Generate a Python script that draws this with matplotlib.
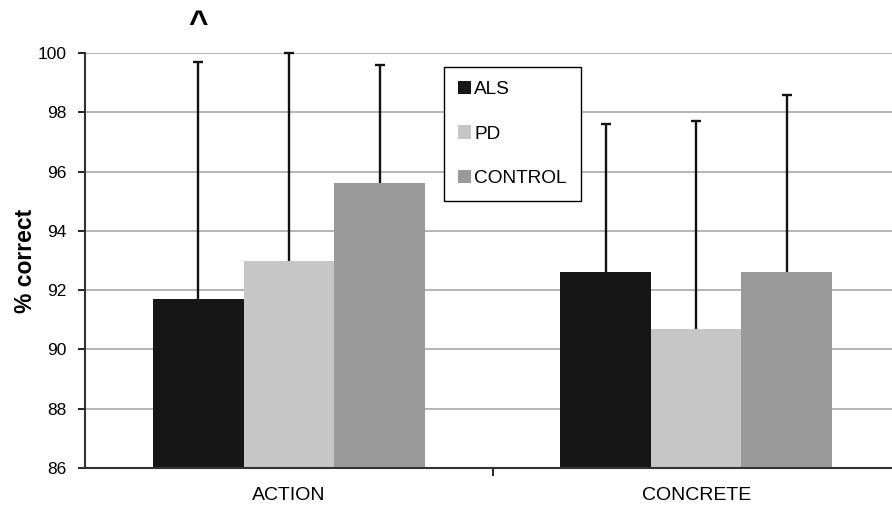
import matplotlib
matplotlib.use("Agg")
import matplotlib.pyplot as plt
import numpy as np

plt.rcParams['font.family'] = ['Liberation Sans', 'DejaVu Sans']

categories = ["ACTION", "CONCRETE"]
groups = ["ALS", "PD", "CONTROL"]
means = {
    "ALS": [91.7, 92.6],
    "PD": [93.0, 90.7],
    "CONTROL": [95.6, 92.6],
}
upper = {
    "ALS": [99.7, 97.6],
    "PD": [100.0, 97.7],
    "CONTROL": [99.6, 98.6],
}
colors = {"ALS": "#161616", "PD": "#c5c6c5", "CONTROL": "#999a99"}
yticks = [86, 88, 90, 92, 94, 96, 98, 100]

fig = plt.figure(figsize=(8.92, 5.08), dpi=100)
ax = fig.add_axes([85/892, 40/508, 1 - 85/892, 415/508])

x = np.arange(len(categories))
w = 0.2224
for i, g in enumerate(groups):
    pos = x + (i - 1) * w
    vals = np.array(means[g])
    tops = np.array(upper[g])
    ax.bar(pos, vals - 86, bottom=86, width=w, color=colors[g], label=g, zorder=2)
    ax.vlines(pos, vals, tops, color='#111111', linewidth=1.7, zorder=3, clip_on=False)
    ax.plot(pos, tops, linestyle='none', marker='_', markersize=7, markeredgewidth=1.7,
            color='#111111', zorder=3, clip_on=False)

ax.set_ylim(86, 100)
ax.set_xlim(-0.501, 1.481)
ax.set_yticks(yticks)
ax.set_yticklabels([str(t) for t in yticks], fontsize=12.5)
ax.yaxis.grid(True, color='#a8a8a8', linewidth=1.2, zorder=0)
ax.set_axisbelow(True)

ax.set_xticks(x)
ax.set_xticklabels(categories, fontsize=14)
ax.tick_params(axis='x', which='major', length=0, pad=14)
ax.set_xticks([0.5], minor=True)
ax.tick_params(axis='x', which='minor', length=6, width=1.2, direction='out')
ax.tick_params(axis='y', which='major', length=5, width=1.2, direction='out', pad=8)

for s in ['top', 'right']:
    ax.spines[s].set_visible(False)
for s in ['left', 'bottom']:
    ax.spines[s].set_color('#333333')
    ax.spines[s].set_linewidth(1.5)

ax.set_ylabel("% correct", fontsize=16.5, fontweight='bold')
ax.yaxis.set_label_coords(-0.060, 0.5)

ax.text(-w, 1.068, "^", transform=ax.get_xaxis_transform(), ha='center', va='center',
        fontsize=24, fontweight='bold')

leg = ax.legend(loc='upper left', bbox_to_anchor=((444-85)/807, (468-67)/415),
                fontsize=13.7, frameon=True, fancybox=False, edgecolor='black',
                handlelength=0.68, handleheight=0.68, handletextpad=0.15,
                labelspacing=1.42, borderpad=0.75, borderaxespad=0)
leg.get_frame().set_linewidth(1.0)
leg.get_frame().set_alpha(1)

fig.savefig("out.png", dpi=100)
